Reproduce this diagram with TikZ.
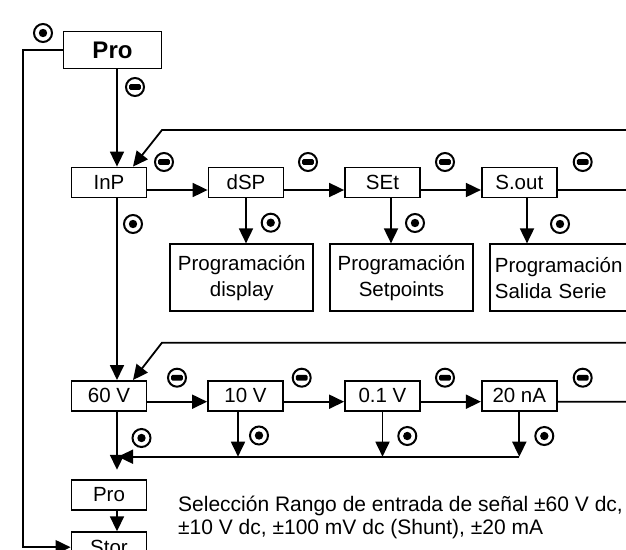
\documentclass[tikz,border=0pt]{standalone}
\usepackage{fontspec}
\setmainfont{Liberation Sans}
\usetikzlibrary{arrows.meta}
\def\dotkey(#1){\draw[line width=2pt] (#1) circle (9pt); \fill (#1) circle (4.2pt);}
\def\minuskey(#1){\draw[line width=2pt] (#1) circle (9pt); \fill[rounded corners=1.2pt] (#1) ++(-5.8pt,-2.8pt) rectangle ++(11.6pt,5.6pt);}

\begin{document}
\begin{tikzpicture}[x=1pt, y=-1pt,
		every node/.style={font=\fontsize{20.5}{26}\selectfont},
		box/.style={draw, line width=1.8pt, minimum width=75pt, minimum height=30pt, inner sep=0pt},
		bigbox/.style={draw, line width=1.8pt, minimum width=143pt, minimum height=67pt, inner sep=0pt, align=center},
		arr/.style={line width=1.8pt, -{Triangle[length=15pt,width=14pt]}},
		wire/.style={line width=1.8pt}]
		%%%%% START %%%%%
		
		\useasboundingbox (0,0) rectangle (626,549);
		\clip (0,0) rectangle (626,549);
		
		\node[box, minimum width=98pt, minimum height=37pt, font=\fontsize{24}{28}\selectfont\bfseries] (proTop) at (112.5,50) {Pro};
		
		\node[box] (inp) at (109,182.5) {InP};
		\node[box] (dsp) at (246,182.5) {dSP};
		\node[box] (set) at (382.5,182.5) {SEt};
		\node[box] (sout) at (519.3,182.5) {S.out};
		
		\node[bigbox] (progDsp) at (241.8,277.8) {Programación\\display};
		\node[bigbox] (progSet) at (401.5,277.8) {Programación\\Setpoints};
		\node[bigbox, anchor=west, text width=135pt, align=left, inner xsep=5pt] (progSal) at (489,277.8) {Programación\\Salida Serie};
		
		\node[box] (v60) at (109,395.9) {60 V};
		\node[box] (v10) at (245.5,395.9) {10 V};
		\node[box] (v01) at (382.5,395.9) {0.1 V};
		\node[box] (na20) at (519.3,395.9) {20 nA};
		
		\node[box] (proBot) at (109,494.7) {Pro};
		\node[box] (stor) at (109,547.2) {Stor};
		
		\node[anchor=west, align=left, inner sep=0pt, font=\fontsize{21}{23}\selectfont] (note) at (178,517) {Selección Rango de entrada de señal ±60 V dc,\\±10 V dc, ±100 mV dc (Shunt), ±20 mA};
		
		% menu row
		\draw[arr] ([xshift=4.5pt]proTop.south) -- ([xshift=8pt]inp.north);
		\draw[arr] ([yshift=-7.5pt]inp.east) -- ([yshift=-7.5pt]dsp.west);
		\draw[arr] ([yshift=-7.5pt]dsp.east) -- ([yshift=-7.5pt]set.west);
		\draw[arr] ([yshift=-7.5pt]set.east) -- ([yshift=-7.5pt]sout.west);
		\draw[arr] ([yshift=-7.5pt]sout.east) -- (640,190) -- (640,130) -- (162,130) -- ([xshift=24pt]inp.north);
		
		\draw[arr] (dsp.south) -- (dsp.south |- progDsp.north);
		\draw[arr] ([xshift=8.5pt]set.south) -- ([xshift=8.5pt]set.south |- progSet.north);
		\draw[arr] ([xshift=7.7pt]sout.south) -- ([xshift=7.7pt]sout.south |- progSal.north);
		
		% range row
		\draw[arr] ([xshift=8pt]inp.south) -- ([xshift=8pt]v60.north);
		\draw[arr] ([yshift=-5.8pt]v60.east) -- ([yshift=-5.8pt]v10.west);
		\draw[arr] ([yshift=-5.8pt]v10.east) -- ([yshift=-5.8pt]v01.west);
		\draw[arr] ([yshift=-5.8pt]v01.east) -- ([yshift=-5.8pt]na20.west);
		\draw[arr] ([yshift=-5.8pt]na20.east) -- (640,401.7) -- (640,342.7) -- (162,342.7) -- ([xshift=24pt]v60.north);
		
		\coordinate (col) at (519.3,456.7);
		\draw[arr] ([xshift=-7.5pt]v10.south) -- ([xshift=-7.5pt]v10.south |- col);
		\draw[arr] (v01.south) -- (v01.south |- col);
		\draw[arr] (na20.south) -- (na20.south |- col);
		\draw[arr] (col) -- ([xshift=9pt]v60.south |- col);
		\draw[arr] ([xshift=8pt]v60.south) -- ([xshift=8pt,yshift=9pt]proBot.north);
		
		\draw[arr] ([xshift=8pt]proBot.south) -- ([xshift=8pt]stor.north);
		\draw[arr] (proTop.west) -- (23,50) -- (23,547.2) -- (stor.west);
		
		% keys
		\dotkey(43,33)
		\minuskey(135,87)
		
		\minuskey(164,162)
		\minuskey(308,162)
		\minuskey(445,162)
		\minuskey(582.7,162)
		\dotkey(133,224)
		\dotkey(270.7,222.7)
		\dotkey(415,223)
		\dotkey(560,224)
		
		\minuskey(177,377.7)
		\minuskey(301.7,377.7)
		\minuskey(445,377.7)
		\minuskey(582.7,377.7)
		\dotkey(141.5,438)
		\dotkey(259,435.5)
		\dotkey(407.3,436)
		\dotkey(544.3,436)
		
		%%%%% END %%%%%
	\end{tikzpicture}
\end{document}
